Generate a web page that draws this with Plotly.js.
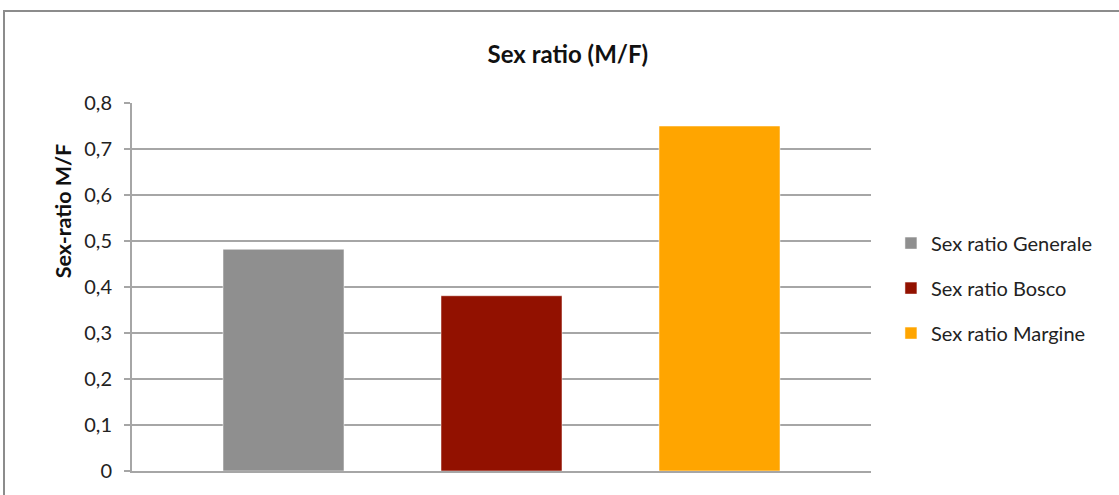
<!DOCTYPE html>
<html>
<head>
<meta charset="utf-8">
<script src="https://cdn.plot.ly/plotly-3.0.1.min.js"></script>
<style>html,body{margin:0;padding:0;background:#fff;}#chart{width:1119px;height:495px;}</style>
</head>
<body>
<div id="chart"></div>
<script>
const category = ['Sex ratio'];
const seriesNames = ['Sex ratio Generale', 'Sex ratio Bosco', 'Sex ratio Margine'];
const seriesValues = [0.482, 0.381, 0.75];
const seriesColors = ['#8f8f8f', '#921100', '#ffa500'];
const yTicks = [0, 0.1, 0.2, 0.3, 0.4, 0.5, 0.6, 0.7, 0.8];

const traces = seriesNames.map((name, i) => ({
  type: 'bar',
  name: name,
  x: category,
  y: [seriesValues[i]],
  marker: {color: seriesColors[i], line: {color: 'rgba(255,255,255,0.5)', width: 1}},
  legendgroup: 'g' + i,
  hoverinfo: 'y'
}));

const font = 'Lato, "Open Sans", sans-serif';
const layout = {
  width: 1119, height: 495,
  margin: {l: 132, r: 248, t: 103, b: 24},
  paper_bgcolor: '#ffffff', plot_bgcolor: '#ffffff',
  separators: ', ',
  font: {family: font, color: '#222', size: 20},
  title: {text: '<b>Sex ratio (M/F)</b>', font: {family: font, size: 24, color: '#111'}, x: 0.5075, xanchor: 'center', y: 0.89, yanchor: 'middle'},
  barmode: 'group',
  bargap: 0.115,
  bargroupgap: 0.445,
  showlegend: true,
  legend: {x: 1.027, xanchor: 'left', y: 0.497, yanchor: 'middle', font: {family: font, size: 20, color: '#222'}, tracegroupgap: 16, traceorder: 'grouped', itemwidth: 30},
  xaxis: {showticklabels: false, showgrid: false, zeroline: false, showline: true, linecolor: '#a6a6a6', linewidth: 2, ticks: '', fixedrange: true},
  yaxis: {
    range: [0, 0.8], tickvals: yTicks, tickformat: '.1~f',
    ticks: 'outside', ticklen: 6, tickcolor: '#a6a6a6', tickwidth: 2,
    ticklabelstandoff: 8,
    showgrid: true, gridcolor: '#a6a6a6', gridwidth: 2,
    showline: true, linecolor: '#a6a6a6', linewidth: 2,
    zeroline: false,
    tickfont: {family: font, size: 20, color: '#222'}
  },
  annotations: [{text: '<b>Sex-ratio M/F</b>', xref: 'paper', yref: 'paper', x: -0.093, y: 0.7065, xanchor: 'center', yanchor: 'middle', textangle: -90, showarrow: false, font: {family: font, size: 21.5, color: '#111'}}],
  shapes: [{type: 'rect', xref: 'paper', yref: 'paper', x0: -0.1732, x1: 1.5, y0: -0.2, y1: 1.25, line: {color: '#8c8c8c', width: 2}, fillcolor: 'rgba(0,0,0,0)', layer: 'below'}]
};

Plotly.newPlot('chart', traces, layout, {displayModeBar: false, staticPlot: true});
</script>
</body>
</html>
